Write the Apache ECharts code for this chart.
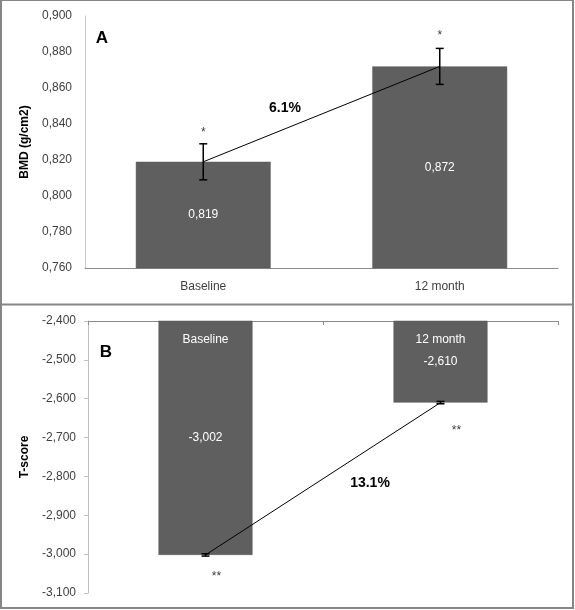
<!DOCTYPE html>
<html>
<head>
<meta charset="utf-8">
<script src="https://cdn.jsdelivr.net/npm/echarts@6/dist/echarts.min.js"></script>
<style>
html,body{margin:0;padding:0;background:#fff;}
#chart{width:575px;height:610px;}
</style>
</head>
<body>
<div id="chart"></div>
<script>
// ---- data ----
const categories = ['Baseline', '12 month'];
const bmdValues = [0.819, 0.872];
const bmdErrors = [0.010, 0.010];
const bmdMarks = ['*', '*'];
const bmdChange = '6.1%';
const tscoreValues = [-3.002, -2.610];
const tscoreErrors = [0.003, 0.003];
const tscoreMarks = ['**', '**'];
const tscoreChange = '13.1%';
const bmdAxisMin = 0.76, bmdAxisMax = 0.90, bmdAxisStep = 0.02;
const tAxisMin = -3.1, tAxisMax = -2.4, tAxisStep = 0.1;
const panelLetters = ['A', 'B'];

const FONT = '"Liberation Sans", Arial, sans-serif';
const BAR = '#5f5f5f';
const TXT = '#404040';
const fmt = v => v.toFixed(3).replace('.', ',');

function errorRenderer(marks, markDx, markDy, fromTop) {
  return function (params, api) {
    const x = api.value(0), v = api.value(1), e = api.value(2);
    const top = api.coord([x, v + e]);
    const bot = api.coord([x, v - e]);
    const cap = 4;
    const ref = fromTop ? top : bot;
    return {
      type: 'group',
      children: [
        {type: 'line', shape: {x1: top[0], y1: top[1], x2: bot[0], y2: bot[1]}, style: {stroke: '#000', lineWidth: 1.5}},
        {type: 'line', shape: {x1: top[0] - cap, y1: top[1], x2: top[0] + cap, y2: top[1]}, style: {stroke: '#000', lineWidth: 1.5}},
        {type: 'line', shape: {x1: bot[0] - cap, y1: bot[1], x2: bot[0] + cap, y2: bot[1]}, style: {stroke: '#000', lineWidth: 1.5}},
        {type: 'text', x: ref[0] + markDx[params.dataIndex], y: ref[1] + markDy[params.dataIndex],
          style: {text: marks[params.dataIndex], fill: '#404040', font: '12px ' + FONT, align: 'center', verticalAlign: 'middle'}}
      ]
    };
  };
}

const chart = echarts.init(document.getElementById('chart'), null, {renderer: 'canvas'});

const option = {
  animation: false,
  backgroundColor: '#fff',
  textStyle: {fontFamily: FONT},
  grid: [
    {left: 85, top: 16, width: 473, height: 252, outerBoundsMode: 'none', containLabel: false},
    {left: 88, top: 321, width: 470, height: 272, outerBoundsMode: 'none', containLabel: false}
  ],
  xAxis: [
    {
      type: 'category', gridIndex: 0, data: categories,
      axisLine: {lineStyle: {color: '#8c8c8c', width: 1}},
      axisTick: {show: false},
      axisLabel: {color: TXT, fontSize: 12, margin: 13, fontFamily: FONT},
      splitLine: {show: false}
    },
    {
      type: 'category', gridIndex: 1, data: categories, position: 'top',
      axisLine: {lineStyle: {color: '#8c8c8c', width: 1}},
      axisTick: {show: true, inside: true, length: 4, lineStyle: {color: '#8c8c8c'}},
      axisLabel: {show: false},
      splitLine: {show: false}
    }
  ],
  yAxis: [
    {
      type: 'value', gridIndex: 0, min: bmdAxisMin, max: bmdAxisMax, interval: bmdAxisStep,
      name: 'BMD (g/cm2)', nameLocation: 'middle', nameGap: 47,
      nameTextStyle: {color: '#000', fontWeight: 'bold', fontSize: 12, fontFamily: FONT},
      axisLine: {show: true, lineStyle: {color: '#c8c8c8'}},
      axisTick: {show: false},
      splitLine: {show: false},
      axisLabel: {color: TXT, fontSize: 12, margin: 13, formatter: fmt, fontFamily: FONT}
    },
    {
      type: 'value', gridIndex: 1, min: tAxisMin, max: tAxisMax, interval: tAxisStep,
      name: 'T-score', nameLocation: 'middle', nameGap: 50,
      nameTextStyle: {color: '#000', fontWeight: 'bold', fontSize: 12, fontFamily: FONT},
      axisLine: {show: true, lineStyle: {color: '#c0c0c0'}},
      axisTick: {show: true, length: 4, lineStyle: {color: '#c0c0c0'}},
      splitLine: {show: false},
      axisLabel: {color: TXT, fontSize: 12, margin: 12, formatter: fmt, fontFamily: FONT}
    }
  ],
  series: [
    {
      type: 'bar', xAxisIndex: 0, yAxisIndex: 0, data: bmdValues, barCategoryGap: '43%',
      itemStyle: {color: BAR, borderColor: '#555', borderWidth: 0.5},
      label: {show: true, position: 'inside', color: '#fff', fontSize: 12, formatter: p => fmt(p.value), fontFamily: FONT},
      emphasis: {disabled: true}, z: 2
    },
    {
      type: 'line', xAxisIndex: 0, yAxisIndex: 0, data: bmdValues, symbol: 'none',
      lineStyle: {color: '#000', width: 1}, z: 3, emphasis: {disabled: true}
    },
    {
      type: 'custom', xAxisIndex: 0, yAxisIndex: 0,
      data: bmdValues.map((v, i) => [i, v, bmdErrors[i]]),
      renderItem: errorRenderer(bmdMarks, [0, 0], [-11, -13], true), z: 4
    },
    {
      type: 'bar', xAxisIndex: 1, yAxisIndex: 1, data: tscoreValues, barCategoryGap: '60%',
      itemStyle: {color: BAR, borderColor: '#555', borderWidth: 0.5},
      label: {show: true, position: 'inside', color: '#fff', fontSize: 12, formatter: p => fmt(p.value), fontFamily: FONT},
      emphasis: {disabled: true}, z: 2
    },
    {
      type: 'bar', xAxisIndex: 1, yAxisIndex: 1, data: tscoreValues, barGap: '-100%', barCategoryGap: '60%',
      itemStyle: {color: 'rgba(0,0,0,0)'},
      label: {show: true, position: 'insideTop', distance: 13, color: '#fff', fontSize: 12, formatter: '{b}', fontFamily: FONT},
      emphasis: {disabled: true}, z: 2
    },
    {
      type: 'line', xAxisIndex: 1, yAxisIndex: 1, data: tscoreValues, symbol: 'none',
      lineStyle: {color: '#000', width: 1}, z: 3, emphasis: {disabled: true}
    },
    {
      type: 'custom', xAxisIndex: 1, yAxisIndex: 1,
      data: tscoreValues.map((v, i) => [i, v, tscoreErrors[i]]),
      renderItem: errorRenderer(tscoreMarks, [11, 16], [21, 27], false), z: 4
    }
  ],
  graphic: [
    {type: 'rect', shape: {x: 1, y: 0, width: 572, height: 608}, style: {fill: 'none', stroke: '#868686', lineWidth: 2}, z: 10},
    {type: 'line', shape: {x1: 1, y1: 304.5, x2: 573, y2: 304.5}, style: {stroke: '#868686', lineWidth: 2}, z: 10},
    {type: 'text', x: 102, y: 38, style: {text: panelLetters[0], font: 'bold 17px ' + FONT, fill: '#000', align: 'center', verticalAlign: 'middle'}},
    {type: 'text', x: 106, y: 352, style: {text: panelLetters[1], font: 'bold 17px ' + FONT, fill: '#000', align: 'center', verticalAlign: 'middle'}},
    {type: 'text', x: 285, y: 108, style: {text: bmdChange, font: 'bold 14px ' + FONT, fill: '#000', align: 'center', verticalAlign: 'middle'}},
    {type: 'text', x: 370, y: 483, style: {text: tscoreChange, font: 'bold 14px ' + FONT, fill: '#000', align: 'center', verticalAlign: 'middle'}}
  ]
};
chart.setOption(option);
</script>
</body>
</html>
